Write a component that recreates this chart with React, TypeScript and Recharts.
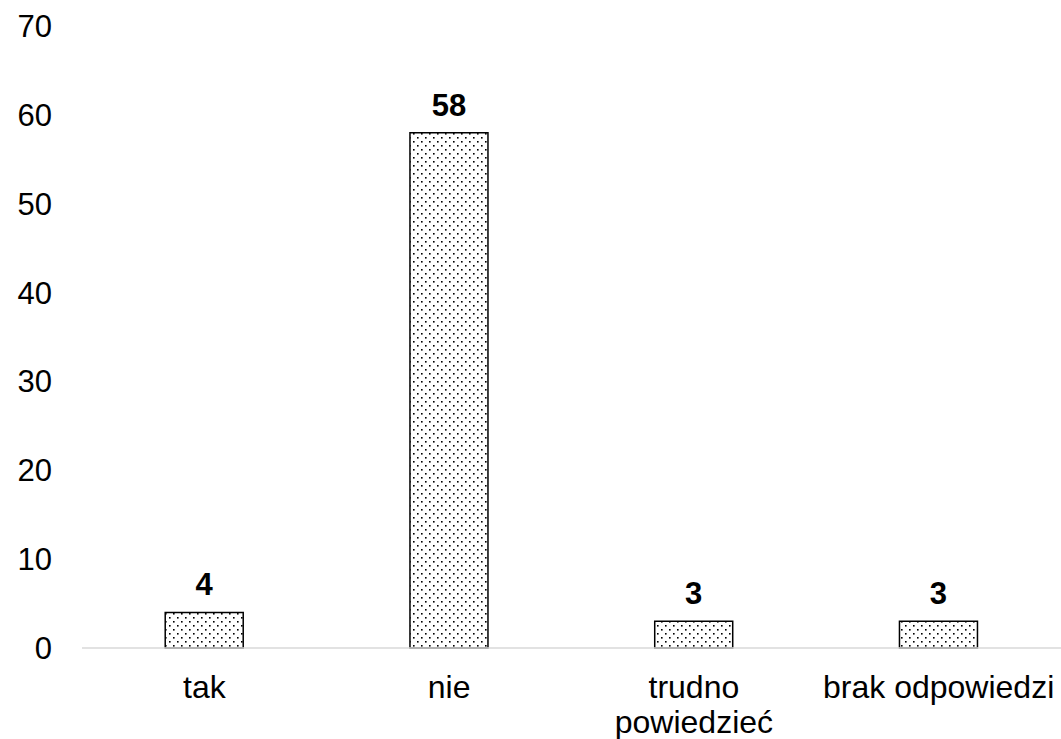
import { BarChart, Bar, XAxis, YAxis, LabelList } from 'recharts';

const categories = ['tak', 'nie', 'trudno\npowiedzieć', 'brak odpowiedzi'];
const counts = [4, 58, 3, 3];
const yTicks = [0, 10, 20, 30, 40, 50, 60, 70];

const data = categories.map((name, i) => ({ name, value: counts[i] }));

const font = '"Liberation Sans", Arial, sans-serif';

function CategoryTick({ x, y, payload }: any) {
  const lines: string[] = String(payload.value).split('\n');
  return (
    <text x={x} y={y} textAnchor="middle" fontFamily={font} fontSize={32} fill="#000">
      {lines.map((line, i) => (
        <tspan key={i} x={x} y={y + 50 + i * 35}>
          {line}
        </tspan>
      ))}
    </text>
  );
}

export default function App() {
  return (
    <div style={{ position: 'absolute', left: 0, top: 0, background: '#fff' }}>
      <BarChart
        width={1061}
        height={739}
        data={data}
        margin={{ top: 26, right: 0, left: 0, bottom: 0 }}
        barCategoryGap="34%"
      >
        <defs>
          <pattern id="dots" width="8" height="8" patternUnits="userSpaceOnUse">
            <rect width="8" height="8" fill="#fff" />
            <rect x="1" y="1" width="1.6" height="1.6" fill="#000" />
            <rect x="5" y="5" width="1.6" height="1.6" fill="#000" />
          </pattern>
        </defs>
        <XAxis
          dataKey="name"
          height={91}
          tickLine={false}
          tickSize={0}
          tickMargin={0}
          axisLine={{ stroke: '#d9d9d9', strokeWidth: 1.5 }}
          tick={<CategoryTick />}
          interval={0}
        />
        <YAxis
          width={82}
          domain={[0, 70]}
          ticks={yTicks}
          tickLine={false}
          axisLine={false}
          tickSize={0}
          tickMargin={30}
          tick={{ fontFamily: font, fontSize: 31, fill: '#000' }}
        />
        <Bar
          dataKey="value"
          fill="url(#dots)"
          stroke="#000"
          strokeWidth={1.5}
          isAnimationActive={false}
        >
          <LabelList
            dataKey="value"
            position="top"
            offset={17}
            style={{ fontFamily: font, fontSize: 31, fontWeight: 'bold', fill: '#000' }}
          />
        </Bar>
      </BarChart>
    </div>
  );
}
